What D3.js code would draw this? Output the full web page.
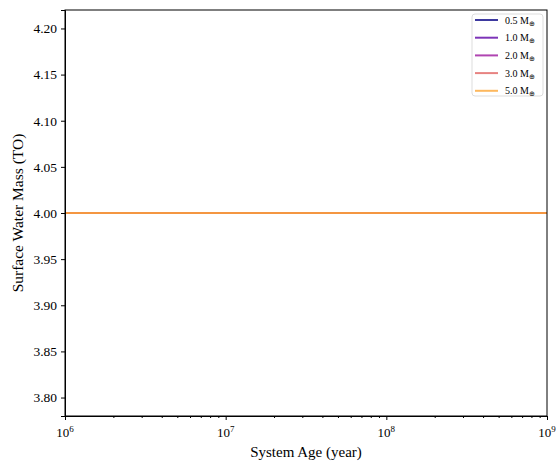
<!DOCTYPE html>
<html>
<head>
<meta charset="utf-8">
<script src="https://cdn.jsdelivr.net/npm/d3@7"></script>
<style>
  body { margin: 0; background: #fff; }
  text { font-family: "Liberation Serif", "Times New Roman", serif; }
</style>
</head>
<body>
<svg id="chart"></svg>
<script>
// chart data
const ages = [1e6, 1e7, 1e8, 1e9];
const masses = ["0.5", "1.0", "2.0", "3.0", "5.0"];
const water05 = [4.0, 4.0, 4.0, 4.0];
const water10 = [4.0, 4.0, 4.0, 4.0];
const water20 = [4.0, 4.0, 4.0, 4.0];
const water30 = [4.0, 4.0, 4.0, 4.0];
const water50 = [4.0, 4.0, 4.0, 4.0];
const yTicks = [3.80, 3.85, 3.90, 3.95, 4.00, 4.05, 4.10, 4.15, 4.20];
const xTicks = [1e6, 1e7, 1e8, 1e9];

const series = [water05, water10, water20, water30, water50];
const colors = ["#0d0887", "#5c01a6", "#9c179e", "#e16462", "#fca636"];

const W = 557, H = 466;
const margin = { top: 10, right: 10, bottom: 50, left: 65 };

const svg = d3.select("#chart")
  .attr("width", W)
  .attr("height", H);

const x = d3.scaleLog()
  .domain([1e6, 1e9])
  .range([margin.left, W - margin.right]);

const y = d3.scaleLinear()
  .domain([3.78, 4.22])
  .range([H - margin.bottom, margin.top]);

// lines
const line = d3.line()
  .x((d, i) => x(ages[i]))
  .y(d => y(d));

series.forEach((s, i) => {
  svg.append("path")
    .datum(s)
    .attr("fill", "none")
    .attr("stroke", colors[i])
    .attr("stroke-opacity", 0.8)
    .attr("stroke-width", 2)
    .attr("d", line);
});

// y axis
const yAxis = svg.append("g")
  .attr("transform", `translate(${margin.left},0)`)
  .call(d3.axisLeft(y).tickValues(yTicks).tickFormat(d3.format(".2f")).tickSize(4).tickPadding(4));
yAxis.selectAll("text").attr("font-size", 13.5).attr("fill", "#000")
  .style("font-family", '"Liberation Serif", serif');

// x axis, major
svg.append("g")
  .attr("transform", `translate(0,${H - margin.bottom})`)
  .call(d3.axisBottom(x).tickValues(xTicks).tickFormat("").tickSize(4));

// minor ticks
const minor = [];
for (let e = 6; e < 9; e++) for (let k = 2; k <= 9; k++) minor.push(k * Math.pow(10, e));
svg.append("g")
  .attr("transform", `translate(0,${H - margin.bottom})`)
  .call(d3.axisBottom(x).tickValues(minor).tickFormat("").tickSize(2))
  .select(".domain").remove();

// x tick labels as 10^n
xTicks.forEach(t => {
  const lbl = svg.append("text")
    .attr("x", x(t))
    .attr("y", H - margin.bottom + 21)
    .attr("text-anchor", "middle")
    .attr("font-size", 13);
  lbl.append("tspan").text("10");
  lbl.append("tspan").attr("font-size", 9).attr("dy", -5).text(Math.log10(t));
});

svg.selectAll(".domain").attr("stroke", "#000");

// frame
svg.append("rect")
  .attr("x", margin.left)
  .attr("y", margin.top)
  .attr("width", W - margin.left - margin.right)
  .attr("height", H - margin.top - margin.bottom)
  .attr("fill", "none")
  .attr("stroke", "#000")
  .attr("stroke-width", 1);

// axis titles
svg.append("text")
  .attr("x", (margin.left + W - margin.right) / 2)
  .attr("y", H - 9)
  .attr("text-anchor", "middle")
  .attr("font-size", 15)
  .text("System Age (year)");

svg.append("text")
  .attr("transform", `translate(23,${(margin.top + H - margin.bottom) / 2}) rotate(-90)`)
  .attr("text-anchor", "middle")
  .attr("font-size", 15.5)
  .text("Surface Water Mass (TO)");

// legend
const lg = svg.append("g").attr("transform", "translate(472,14)");
lg.append("rect")
  .attr("width", 71).attr("height", 82).attr("rx", 3)
  .attr("fill", "#fff").attr("fill-opacity", 0.8)
  .attr("stroke", "#ddd");
masses.forEach((m, i) => {
  const yy = 6 + i * 17.7;
  lg.append("line")
    .attr("x1", 3).attr("x2", 26).attr("y1", yy).attr("y2", yy)
    .attr("stroke", colors[i]).attr("stroke-opacity", 0.8).attr("stroke-width", 2);
  const t = lg.append("text")
    .attr("x", 33).attr("y", yy + 3.5)
    .attr("font-size", 10);
  t.append("tspan").text(m + " M");
  t.append("tspan").attr("font-size", 7).attr("dy", 2).text("\u2295");
});
</script>
</body>
</html>
